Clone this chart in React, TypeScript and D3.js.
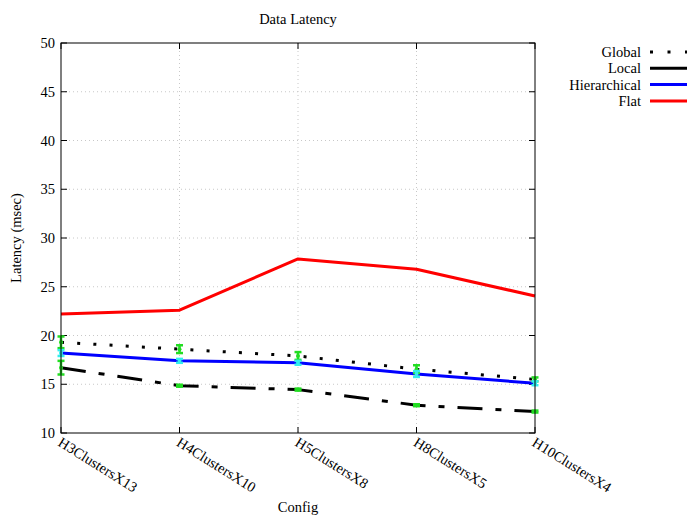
import * as d3 from "d3";

const configs = ["H3ClustersX13", "H4ClustersX10", "H5ClustersX8", "H8ClustersX5", "H10ClustersX4"];
const globalLat = [19.3, 18.6, 17.9, 16.55, 15.5];
const globalErr = [0.6, 0.4, 0.4, 0.4, 0.2];
const localLat = [16.7, 14.85, 14.45, 12.85, 12.2];
const localErr = [0.7, 0.1, 0.1, 0.1, 0.1];
const hierLat = [18.2, 17.4, 17.2, 16.05, 15.1];
const hierErr = [0.3, 0.2, 0.2, 0.3, 0.2];
const flatLat = [22.2, 22.6, 27.85, 26.8, 24.05];
const yTicks = [10, 15, 20, 25, 30, 35, 40, 45, 50];

const width = 689;
const height = 515;
const marginLeft = 61;
const marginRight = 154;
const marginTop = 43;
const marginBottom = 82;
const font = "'Liberation Serif', 'DejaVu Serif', serif";
const fs = 14.5;

export default function App() {
  const x = d3.scalePoint(configs, [marginLeft, width - marginRight]);
  const y = d3.scaleLinear([10, 50], [height - marginBottom, marginTop]);
  const line = d3.line<number>((d, i) => x(configs[i])!, (d) => y(d));

  const series = [
    { name: "Global", values: globalLat, err: globalErr, errColor: "#22dd22", stroke: "#000", dash: "3 13.2" },
    { name: "Local", values: localLat, err: localErr, errColor: "#22dd22", stroke: "#000", dash: "25 13 6 13" },
    { name: "Hierarchical", values: hierLat, err: hierErr, errColor: "#33eeee", stroke: "#0000ff", dash: null },
    { name: "Flat", values: flatLat, err: null, errColor: "", stroke: "#ff0000", dash: null },
  ];

  const left = marginLeft;
  const right = width - marginRight;
  const top = marginTop;
  const bottom = height - marginBottom;

  return (
    <svg width={width} height={height} style={{ position: "absolute", left: 0, top: 0, background: "#fff" }} fontFamily={font}>
      <text x={(left + right) / 2} y={24} textAnchor="middle" fontSize={fs}>Data Latency</text>

      {/* grid */}
      <g stroke="#c8c8c8" strokeWidth={1} strokeDasharray="1 3">
        {yTicks.slice(1, -1).map((t) => (
          <line key={t} x1={left} x2={right} y1={y(t)} y2={y(t)} />
        ))}
        {configs.slice(1, -1).map((c) => (
          <line key={c} x1={x(c)} x2={x(c)} y1={top} y2={bottom} />
        ))}
      </g>

      {/* ticks */}
      <g stroke="#000" strokeWidth={1}>
        {yTicks.map((t) => (
          <g key={t}>
            <line x1={left} x2={left + 6} y1={y(t)} y2={y(t)} />
            <line x1={right} x2={right - 6} y1={y(t)} y2={y(t)} />
          </g>
        ))}
        {configs.map((c) => (
          <g key={c}>
            <line x1={x(c)} x2={x(c)} y1={bottom} y2={bottom - 6} />
            <line x1={x(c)} x2={x(c)} y1={top} y2={top + 6} />
          </g>
        ))}
      </g>

      <g fontSize={fs} textAnchor="end">
        {yTicks.map((t) => (
          <text key={t} x={left - 6} y={y(t) + 5}>{t}</text>
        ))}
      </g>
      <g fontSize={fs}>
        {configs.map((c) => (
          <text key={c} transform={`translate(${x(c)! - 4},${bottom + 12}) rotate(32)`}>{c}</text>
        ))}
      </g>

      <text transform={`translate(21,${(top + bottom) / 2}) rotate(-90)`} textAnchor="middle" fontSize={fs}>Latency (msec)</text>
      <text x={(left + right) / 2} y={512} textAnchor="middle" fontSize={fs}>Config</text>

      {/* lines */}
      {series.map((s) => (
        <path key={s.name} d={line(s.values)!} fill="none" stroke={s.stroke} strokeWidth={3}
          strokeDasharray={s.dash ?? undefined} strokeLinejoin="round" />
      ))}

      {/* error bars */}
      {series.filter((s) => s.err).map((s) => (
        <g key={s.name} stroke={s.errColor} strokeWidth={2.5}>
          {s.values.map((v, i) => {
            const cx = x(configs[i])!;
            const e = s.err![i];
            return (
              <g key={i}>
                <line x1={cx} x2={cx} y1={y(v - e)} y2={y(v + e)} />
                <line x1={cx - 3.5} x2={cx + 3.5} y1={y(v - e)} y2={y(v - e)} />
                <line x1={cx - 3.5} x2={cx + 3.5} y1={y(v + e)} y2={y(v + e)} />
                <circle cx={cx} cy={y(v)} r={2} fill={s.errColor} stroke="none" />
              </g>
            );
          })}
        </g>
      ))}

      {/* border */}
      <rect x={left} y={top} width={right - left} height={bottom - top} fill="none" stroke="#000" strokeWidth={1} />

      {/* legend */}
      <g fontSize={fs}>
        {series.map((s, i) => {
          const ly = 52 + i * 16.3;
          return (
            <g key={s.name}>
              <text x={641} y={ly + 5} textAnchor="end">{s.name}</text>
              <line x1={650} x2={687} y1={ly} y2={ly} stroke={s.stroke} strokeWidth={3}
                strokeDasharray={s.name === "Global" ? "3 14.5" : undefined} />
            </g>
          );
        })}
      </g>
    </svg>
  );
}
